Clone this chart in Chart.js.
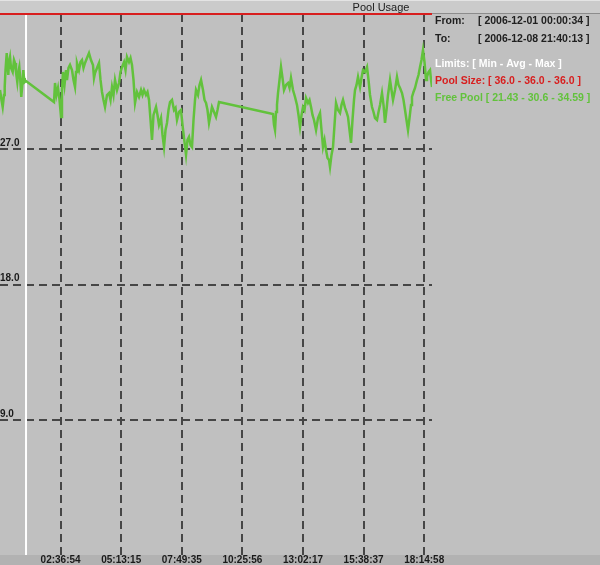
<!DOCTYPE html>
<html>
<head>
<meta charset="utf-8">
<script src="https://cdn.jsdelivr.net/npm/chart.js@4"></script>
<style>
  html, body { margin: 0; padding: 0; background: #c0c0c0; }
</style>
</head>
<body>
<canvas id="chart" width="600" height="565"></canvas>
<script>
// x values are minutes since midnight
const tickLabels = ["02:36:54", "05:13:15", "07:49:35", "10:25:56", "13:02:17", "15:38:37", "18:14:58"];
const axisStart = "00:00:34";
const axisEnd = "18:35:06";
const markerTime = 67.7;
const yTicks = [9, 18, 27];

const poolTimes = [0.57, 1115.1];
const poolValues = [36, 36];

const freeTimes = [
  0.6, 4.4, 7.5, 10.9, 12.7, 14.8, 17.9, 19.9, 22.0, 23.8,
  26.4, 29.0, 33.3, 36.7, 39.3, 41.8, 45.2, 47.8, 50.4, 53.0,
  55.5, 58.1, 60.7, 62.5, 64.3, 67.7, 139.9, 142.5, 146.3, 150.2,
  154.1, 158.0, 160.5, 163.1, 167.0, 170.9, 173.4, 177.3, 181.2, 186.3,
  190.2, 194.1, 196.7, 199.2, 204.4, 208.2, 212.1, 216.0, 219.9, 225.0,
  230.2, 235.3, 240.5, 243.1, 245.7, 250.8, 256.0, 259.9, 263.7, 267.6,
  271.5, 276.6, 281.8, 285.7, 289.5, 293.4, 297.3, 302.4, 307.6, 311.5,
  315.3, 320.5, 324.4, 328.2, 333.4, 337.3, 341.1, 345.0, 348.9, 354.0,
  359.2, 364.4, 368.2, 372.1, 377.2, 381.1, 385.0, 388.9, 392.7, 396.6,
  403.1, 406.9, 410.8, 416.0, 419.8, 423.7, 427.6, 431.4, 435.3, 439.2,
  444.3, 449.5, 453.4, 457.2, 462.4, 467.5, 471.4, 475.3, 480.5, 484.3,
  488.2, 492.1, 495.9, 499.8, 503.7, 506.3, 511.4, 515.3, 519.2, 524.3,
  528.2, 532.1, 535.9, 539.8, 543.7, 547.5, 552.7, 557.8, 561.7, 565.6,
  704.9, 707.5, 710.1, 712.7, 715.2, 717.8, 721.7, 725.5, 729.4, 733.3,
  738.5, 743.6, 747.5, 751.3, 756.5, 761.7, 766.8, 770.7, 774.6, 778.5,
  782.3, 786.2, 790.1, 795.2, 799.1, 803.0, 806.8, 810.7, 815.9, 821.0,
  826.2, 830.0, 833.9, 837.8, 841.7, 845.5, 849.4, 852.0, 855.8, 859.7,
  863.6, 867.5, 872.6, 877.8, 881.6, 885.5, 890.7, 894.5, 898.4, 902.3,
  906.2, 910.0, 913.9, 916.5, 920.4, 924.2, 926.8, 929.4, 933.2, 937.1,
  942.3, 947.4, 951.3, 955.2, 960.3, 964.2, 968.1, 973.2, 977.1, 981.0,
  986.1, 990.0, 993.9, 997.7, 1001.6, 1006.8, 1010.6, 1014.5, 1019.7, 1024.8,
  1028.7, 1032.6, 1037.7, 1041.6, 1045.5, 1049.3, 1053.2, 1057.1, 1061.0, 1063.5,
  1067.4, 1071.3, 1076.4, 1080.3, 1084.2, 1088.0, 1091.9, 1095.8, 1099.7, 1102.2,
  1106.1, 1110.0, 1112.6, 1115.1
];
const freeValues = [
  30.94, 30.28, 29.81, 30.61, 31.14, 32.27, 33.40, 32.61, 31.94, 32.80,
  33.14, 32.41, 32.14, 32.94, 32.74, 32.14, 31.47, 32.14, 32.47, 31.61,
  30.48, 31.28, 32.27, 31.74, 31.47, 31.54, 30.14, 31.41, 30.61, 31.08,
  30.28, 29.15, 30.94, 32.14, 31.28, 32.27, 31.61, 32.41, 32.61, 32.27,
  31.61, 31.14, 32.14, 32.74, 32.27, 32.80, 32.94, 32.41, 32.74, 33.07,
  33.40, 32.94, 32.61, 31.74, 32.07, 32.41, 32.74, 31.61, 30.81, 30.28,
  29.81, 30.61, 30.74, 30.28, 31.14, 30.61, 31.61, 30.94, 31.41, 32.14,
  32.47, 32.80, 32.27, 33.14, 32.80, 33.07, 32.61, 31.61, 30.08, 30.81,
  30.48, 30.94, 30.61, 30.94, 30.61, 30.81, 30.28, 28.95, 27.62, 29.28,
  29.81, 29.28, 28.62, 29.08, 27.95, 27.15, 28.28, 28.75, 29.61, 30.14,
  30.28, 29.61, 29.75, 28.95, 29.48, 29.61, 28.62, 27.75, 26.62, 27.62,
  27.82, 27.29, 27.15, 28.95, 30.28, 30.94, 30.61, 31.28, 31.61, 30.94,
  30.28, 30.08, 29.61, 28.75, 29.28, 29.81, 29.48, 29.15, 29.61, 30.14,
  29.35, 28.62, 28.28, 29.48, 29.95, 30.74, 31.61, 32.47, 31.74, 30.94,
  31.28, 31.41, 31.08, 31.74, 30.94, 30.48, 29.95, 29.28, 28.48, 29.28,
  29.81, 29.61, 30.41, 30.08, 30.28, 29.81, 29.28, 28.95, 28.28, 29.08,
  29.41, 28.28, 27.15, 27.62, 26.95, 26.42, 26.29, 25.82, 26.62, 27.15,
  28.62, 30.08, 29.61, 29.41, 29.95, 30.28, 29.75, 29.48, 29.15, 28.28,
  27.42, 28.95, 30.28, 30.94, 31.28, 31.81, 31.47, 31.14, 31.74, 32.27,
  32.14, 32.47, 31.61, 30.61, 29.81, 29.48, 29.08, 28.95, 29.48, 29.95,
  30.74, 29.95, 28.75, 29.61, 30.61, 31.61, 30.94, 30.28, 30.94, 31.81,
  31.28, 31.08, 30.74, 30.28, 29.61, 28.95, 28.28, 29.08, 29.95, 30.48,
  30.81, 31.08, 31.61, 31.94, 32.47, 32.94, 33.60, 32.80, 31.61, 31.81,
  32.14, 32.27, 31.61, 31.14
];

const rangeFrom = "2006-12-01 00:00:34";
const rangeTo = "2006-12-08 21:40:13";
const poolLimits = ["36.0", "36.0", "36.0"];
const freeLimits = ["21.43", "30.6", "34.59"];

const GREEN = "#62c23c";
const RED = "#d81e1e";

function toMinutes(s) {
  const [h, m, sec] = s.split(":").map(Number);
  return h * 60 + m + sec / 60;
}
const tickValues = tickLabels.map(toMinutes);

const frame = {
  id: "frame",
  beforeDraw(chart) {
    const { ctx, chartArea: a, width, height } = chart;
    ctx.save();
    ctx.fillStyle = "#c0c0c0";
    ctx.fillRect(0, 0, width, height);
    // title bar
    ctx.fillStyle = "#cbcbcb";
    ctx.fillRect(0, 0, width, a.top);
    ctx.fillStyle = "#8c8c8c";
    ctx.fillRect(0, a.top - 1, width, 1);
    ctx.fillStyle = "#e4e4e4";
    ctx.fillRect(0, 0, width, 1);
    // bottom bar
    ctx.fillStyle = "#b2b2b2";
    ctx.fillRect(0, a.bottom, width, height - a.bottom);
    ctx.restore();
  },
  afterDraw(chart) {
    const { ctx } = chart;
    ctx.save();
    ctx.textBaseline = "alphabetic";
    ctx.fillStyle = "#202020";
    ctx.font = "11px 'Liberation Sans'";
    ctx.textAlign = "center";
    ctx.fillText("Pool Usage", 381, 11);
    ctx.textAlign = "left";
    ctx.font = "bold 10.5px 'Liberation Sans'";
    ctx.fillText("From:", 435, 24);
    ctx.fillText("[ " + rangeFrom + " ]", 478, 24);
    ctx.fillText("To:", 435, 42);
    ctx.fillText("[ " + rangeTo + " ]", 478, 42);
    ctx.fillStyle = "#ffffff";
    ctx.fillText("Limits: [ Min - Avg - Max ]", 435, 67);
    ctx.fillStyle = RED;
    ctx.fillText("Pool Size: [ " + poolLimits.join(" - ") + " ]", 435, 84);
    ctx.fillStyle = GREEN;
    ctx.fillText("Free Pool [ " + freeLimits.join(" - ") + " ]", 435, 101);
    ctx.restore();
  }
};

new Chart(document.getElementById("chart"), {
  type: "line",
  data: {
    datasets: [
      {
        label: "Free Pool",
        data: freeTimes.map((t, i) => ({ x: t, y: freeValues[i] })),
        borderColor: GREEN,
        borderWidth: 2.5,
        pointRadius: 0,
        tension: 0,
        order: 1,
      },
      {
        label: "Pool Size",
        data: poolTimes.map((t, i) => ({ x: t, y: poolValues[i] })),
        borderColor: RED,
        borderWidth: 2,
        pointRadius: 0,
        clip: false,
        order: 0,
      },
      {
        label: "marker",
        data: [{ x: markerTime, y: 0 }, { x: markerTime, y: 36 }],
        borderColor: "#ffffff",
        borderWidth: 2,
        pointRadius: 0,
        order: 2,
      },
    ],
  },
  options: {
    responsive: false,
    animation: false,
    events: [],
    layout: { padding: { top: 14, right: 168, left: 0, bottom: 0 } },
    plugins: { legend: { display: false }, tooltip: { enabled: false }, title: { display: false } },
    scales: {
      x: {
        type: "linear",
        min: toMinutes(axisStart),
        max: toMinutes(axisEnd),
        afterBuildTicks: (s) => { s.ticks = tickValues.map((v) => ({ value: v })); },
        border: { display: false, dash: [8, 5] },
        grid: { color: "#464646", lineWidth: 2, drawTicks: false },
        ticks: {
          padding: 0,
          color: "#1a1a1a",
          font: { family: "Liberation Sans", size: 10, weight: "bold", lineHeight: 1 },
          callback: (v, i) => tickLabels[i],
          maxRotation: 0,
        },
      },
      y: {
        min: 0,
        max: 36,
        afterBuildTicks: (s) => { s.ticks = yTicks.map((v) => ({ value: v })); },
        border: { display: false, dash: [8, 5] },
        grid: { color: "#464646", lineWidth: 2, drawTicks: false },
        ticks: {
          mirror: true,
          padding: 0,
          labelOffset: -6,
          color: "#1a1a1a",
          font: { family: "Liberation Sans", size: 10, weight: "bold" },
          callback: (v) => Number(v).toFixed(1),
        },
      },
    },
  },
  plugins: [frame],
});
</script>
</body>
</html>
